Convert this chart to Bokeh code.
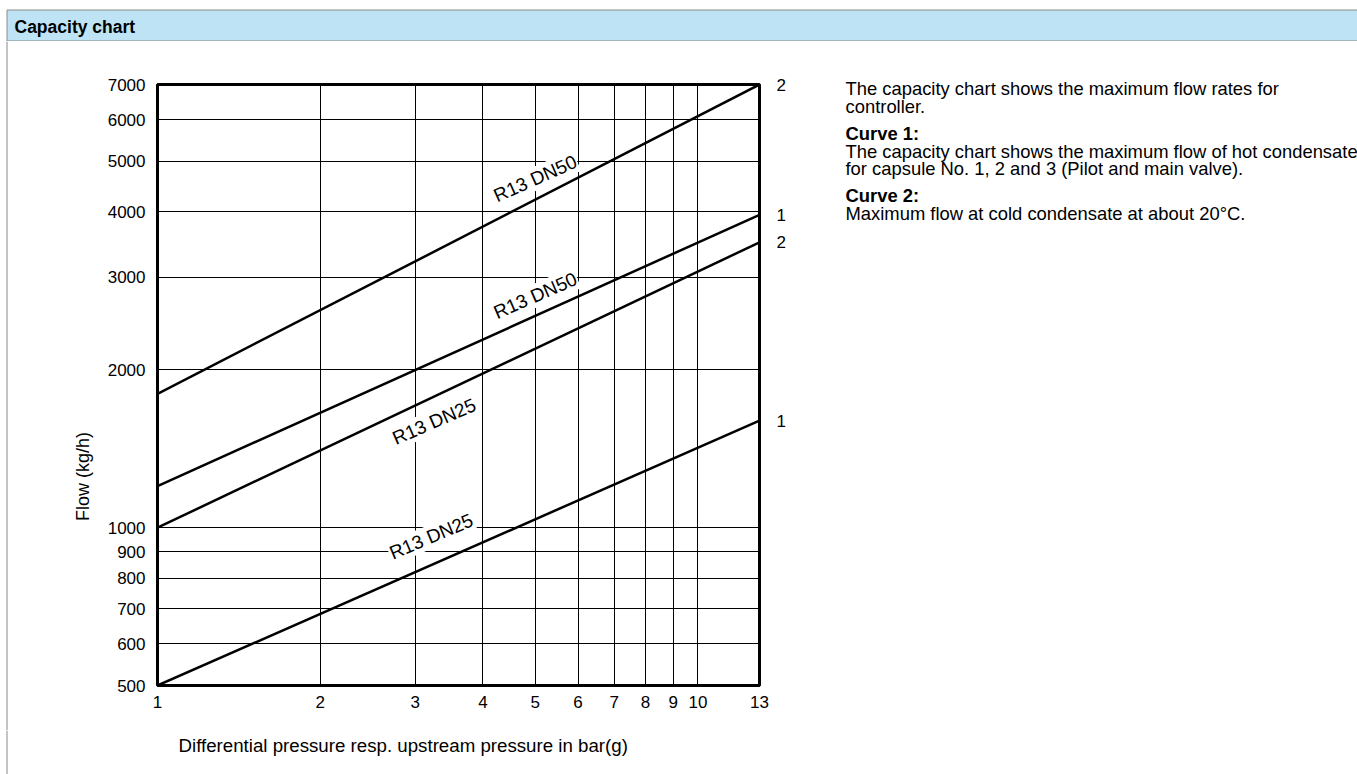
from bokeh.plotting import figure
from bokeh.layouts import column, row
from bokeh.models import FixedTicker, PrintfTickFormatter, Label, Range1d, LogAxis
from bokeh.core.properties import value
from bokeh.embed import file_html
from bokeh.resources import INLINE

# ---------------- data ----------------
pressure = [1, 13]                      # bar(g)
curve2_dn50 = [1800, 7000]              # kg/h
curve1_dn50 = [1200, 3950]
curve2_dn25 = [1000, 3500]
curve1_dn25 = [500, 1600]

x_ticks = [1, 2, 3, 4, 5, 6, 7, 8, 9, 10, 13]
y_ticks = [500, 600, 700, 800, 900, 1000, 2000, 3000, 4000, 5000, 6000, 7000]

curve_names = ["R13 DN50", "R13 DN50", "R13 DN25", "R13 DN25"]
curve_name_x = [5.0, 5.0, 3.25, 3.21]
curve_name_y = [4630, 2770, 1594, 962]
curve_numbers = ["2", "1", "2", "1"]

title_text = "Capacity chart"
x_label = "Differential pressure resp. upstream pressure in bar(g)"
y_label = "Flow (kg/h)"
notes = [
    ("The capacity chart shows the maximum flow rates for", "normal"),
    ("controller.", "normal"),
    ("Curve 1:", "bold"),
    ("The capacity chart shows the maximum flow of hot condensate", "normal"),
    ("for capsule No. 1, 2 and 3 (Pilot and main valve).", "normal"),
    ("Curve 2:", "bold"),
    ("Maximum flow at cold condensate at about 20\u00b0C.", "normal"),
]

# ---------------- style ----------------
FONT = "Liberation Sans"
PAGE_W, PAGE_H = 1357, 774
HEADER_H = 41
LEFT_W = 100
MAIN_W = 700
MAIN_H = 689
GRAY = "#8a8a8a"


def canvas_fig(x0, x1, y0, y1):
    """Helper figure whose frame is the whole canvas, in page pixel coords."""
    f = figure(width=x1 - x0, height=y1 - y0,
               x_range=Range1d(x0, x1), y_range=Range1d(y1, y0),
               output_backend="svg", toolbar_location=None,
               x_axis_location=None, y_axis_location=None, min_border=0)
    f.grid.visible = False
    f.outline_line_color = None
    f.background_fill_color = "white"
    f.border_fill_color = "white"
    return f


# ---- header ----
header = canvas_fig(0, PAGE_W, 0, HEADER_H)
header.quad(left=[6.5], right=[PAGE_W + 5], top=[9.5], bottom=[40.5],
            fill_color="#bee3f5", line_color=GRAY, line_width=1)
header.text(x=[14], y=[26], text=[title_text], text_font=value(FONT),
            text_font_size=value("17.5px"), text_font_style="bold",
            text_baseline="middle", text_align="left", text_color="black")

BODY_B = HEADER_H + MAIN_H

# ---- left strip (page border + y title) ----
left = canvas_fig(0, LEFT_W, HEADER_H, BODY_B)
left.segment(x0=[6.5], y0=[HEADER_H], x1=[6.5], y1=[BODY_B], line_color=GRAY, line_width=1)
left.text(x=[82], y=[476], text=[y_label], angle=90, angle_units="deg",
          text_font=value(FONT), text_font_size=value("18px"),
          text_baseline="middle", text_align="center", text_color="black")

# ---- main chart ----
FRAME_L, FRAME_R, FRAME_T, FRAME_B = 157, 759, 84, 685   # page px
p = figure(width=MAIN_W, height=MAIN_H, x_axis_type="log", y_axis_type="log",
           x_range=Range1d(1, 13), y_range=Range1d(500, 7000),
           output_backend="svg", toolbar_location=None,
           min_border_left=FRAME_L - LEFT_W,
           min_border_right=LEFT_W + MAIN_W - FRAME_R,
           min_border_top=FRAME_T - HEADER_H,
           min_border_bottom=BODY_B - FRAME_B)
p.background_fill_color = "white"
p.border_fill_color = "white"
p.outline_line_color = "black"
p.outline_line_width = 3

ends = (curve2_dn50, curve1_dn50, curve2_dn25, curve1_dn25)
right_axis = LogAxis()
p.add_layout(right_axis, "right")
right_axis.ticker = FixedTicker(ticks=[ys[-1] for ys in ends], minor_ticks=[])
right_axis.major_label_overrides = {ys[-1]: num for ys, num in zip(ends, curve_numbers)}

for ax in (p.xaxis[0], p.yaxis[0], right_axis):
    ax.axis_line_color = None
    ax.major_tick_line_color = None
    ax.minor_tick_line_color = None
    ax.major_tick_out = 0
    ax.major_tick_in = 0
    ax.minor_tick_out = 0
    ax.minor_tick_in = 0
    ax.major_label_text_font = FONT
    ax.major_label_text_font_size = "17px"
    ax.major_label_text_color = "black"

p.xaxis[0].ticker = FixedTicker(ticks=x_ticks, minor_ticks=[])
p.yaxis[0].ticker = FixedTicker(ticks=y_ticks, minor_ticks=[])
p.xaxis[0].formatter = PrintfTickFormatter(format="%d")
p.yaxis[0].formatter = PrintfTickFormatter(format="%d")
p.xaxis[0].major_label_standoff = 10
p.yaxis[0].major_label_standoff = 12
right_axis.major_label_standoff = 17

p.xgrid.ticker = FixedTicker(ticks=x_ticks, minor_ticks=[])
p.ygrid.ticker = FixedTicker(ticks=y_ticks, minor_ticks=[])
for g in (p.xgrid[0], p.ygrid[0]):
    g.grid_line_color = "black"
    g.grid_line_width = 1
    g.grid_line_alpha = 1.0

for ys in ends:
    p.line(pressure, ys, line_color="black", line_width=2.5)

angles = [24, 23.5, 23.5, 23]
for name, lx, ly, ang in zip(curve_names, curve_name_x, curve_name_y, angles):
    p.add_layout(Label(x=lx, y=ly, text=name, angle=ang, angle_units="deg",
                       text_align="center", text_baseline="middle",
                       text_font=FONT, text_font_size="19px", text_color="black",
                       background_fill_color="white", padding=1))

# ---- notes on the right ----
notes_fig = canvas_fig(LEFT_W + MAIN_W, PAGE_W, HEADER_H, BODY_B)
note_y = [88, 106, 133, 151, 168, 195, 213]
notes_fig.text(x=[845] * len(notes), y=note_y, text=[t for t, _ in notes],
               text_font=value(FONT), text_font_size=value("18.4px"),
               text_font_style=[s for _, s in notes],
               text_baseline="middle", text_align="left", text_color="black")

# ---- bottom strip (page border + x title) ----
bottom = canvas_fig(0, PAGE_W, BODY_B, PAGE_H)
bottom.segment(x0=[6.5], y0=[BODY_B], x1=[6.5], y1=[PAGE_H], line_color=GRAY, line_width=1)
bottom.text(x=[178], y=[745], text=[x_label], text_font=value(FONT),
            text_font_size=value("18.7px"), text_baseline="middle", text_align="left",
            text_color="black")

# wrap the chart so its frame is not aligned with the helper strips
layout = column(header, row(left, column(p), notes_fig), bottom)
open("out.html", "w").write(file_html(layout, INLINE))
